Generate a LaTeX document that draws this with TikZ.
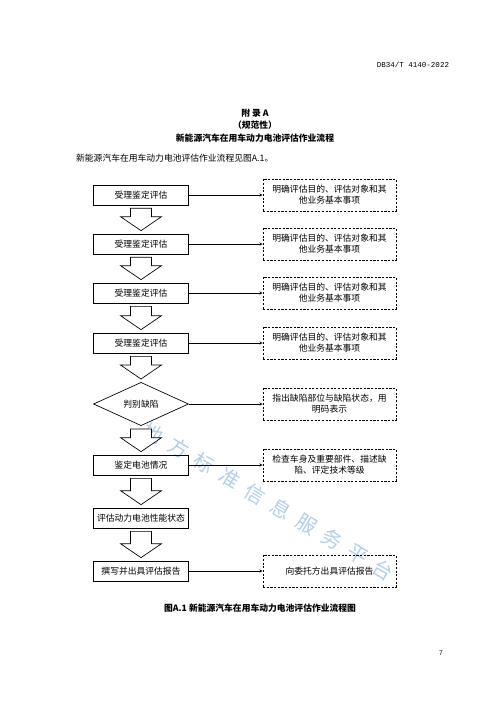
\documentclass[tikz,border=0pt]{standalone}
\usepackage{fontspec}
\setmainfont{Noto Sans CJK SC}
\newfontfamily\hdrfont{Liberation Mono}
\usepackage{tikz}
\usetikzlibrary{calc,shapes.geometric}
\definecolor{wmblue}{RGB}{178,206,236}

\begin{document}
\begin{tikzpicture}[x=0.042cm,y=-0.042cm,>=stealth,
    blk/.style={draw,line width=0.8pt,minimum width=3.99cm,minimum height=0.84cm,inner sep=0pt,
      font=\fontsize{10.5pt}{13pt}\selectfont,align=center},
    dec/.style={blk,diamond,minimum height=1.6cm},
    dbox/.style={draw,line width=0.8pt,dash pattern=on 2.6pt off 1.8pt,minimum width=5.59cm,
      minimum height=1.34cm,inner sep=0pt,font=\fontsize{10.5pt}{13pt}\selectfont,align=center},
    fat/.style={draw,line width=0.8pt,fill=white,line join=miter},
    wm/.style={text=wmblue,font=\fontsize{24pt}{24pt}\selectfont,rotate=-31}]
  \useasboundingbox (0,0) rectangle (500,707);
  % page text
  \node[anchor=east,font=\hdrfont\fontsize{9pt}{9pt}\selectfont] (hdr) at (452,65) {DB34/T 4140-2022};
  \node[font=\bfseries\fontsize{10.5pt}{13pt}\selectfont] (ttl1) at (255,113) {附 录 A};
  \node[font=\bfseries\fontsize{10.5pt}{13pt}\selectfont] (ttl2) at (255,125) {（规范性）};
  \node[font=\bfseries\fontsize{10.5pt}{13pt}\selectfont] (ttl3) at (255,138) {新能源汽车在用车动力电池评估作业流程};
  \node[anchor=west,font=\fontsize{10.5pt}{13pt}\selectfont,inner sep=0pt] (intro) at (76,158) {新能源汽车在用车动力电池评估作业流程见图A.1。};
  % watermark
  \foreach \c [count=\i from 0] in {地,方,标,准,信,息,服,务,平,台}
    \node[wm] (w\i) at ({153+\i*25.6},{433+\i*15.2}) {\c};
  % left column
  \node[blk] (q1) at (141,195) {受理鉴定评估};
  \node[blk] (q2) at (141,244) {受理鉴定评估};
  \node[blk] (q3) at (141,293) {受理鉴定评估};
  \node[blk] (q4) at (141,343) {受理鉴定评估};
  \node[dec] (jd) at (141,404) {判别缺陷};
  \node[blk] (jc) at (141,465) {鉴定电池情况};
  \node[blk] (pg) at (141,518) {评估动力电池性能状态};
  \node[blk] (zx) at (141,571) {撰写并出具评估报告};
  % right column
  \node[dbox] (m1) at (329.5,195) {明确评估目的、评估对象和其\\他业务基本事项};
  \node[dbox] (m2) at (329.5,244) {明确评估目的、评估对象和其\\他业务基本事项};
  \node[dbox] (m3) at (329.5,293) {明确评估目的、评估对象和其\\他业务基本事项};
  \node[dbox] (m4) at (329.5,343) {明确评估目的、评估对象和其\\他业务基本事项};
  \node[dbox] (m5) at (329.5,404) {指出缺陷部位与缺陷状态，用\\明码表示};
  \node[dbox] (m6) at (329.5,465) {检查车身及重要部件、描述缺\\陷、评定技术等级};
  \node[dbox] (m8) at (329.5,571) {向委托方出具评估报告};
  \foreach \a/\b in {q1/m1,q2/m2,q3/m3,q4/m4,jd/m5,jc/m6,zx/m8}
    \draw[->,line width=0.7pt] (\a) -- (\b);
  % block arrows
  \foreach \a/\b in {q1/q2,q2/q3,q3/q4,q4/jd,jd/jc,jc/pg,pg/zx}
    \draw[fat] ($(\a.south)+(-10.5,3)$) -- ($(\b.north)+(-10.5,-17)$) -- ($(\b.north)+(-20.5,-17)$)
      -- ($(\b.north)+(0,-3)$) -- ($(\b.north)+(20.5,-17)$) -- ($(\b.north)+(10.5,-17)$)
      -- ($(\a.south)+(10.5,3)$) -- cycle;
  \node[font=\bfseries\fontsize{10.5pt}{13pt}\selectfont] (cap) at (260,608) {图A.1\ 新能源汽车在用车动力电池评估作业流程图};
  \node[font=\fontsize{8pt}{8pt}\selectfont] (pgno) at (441,653) {7};
\end{tikzpicture}
\end{document}
